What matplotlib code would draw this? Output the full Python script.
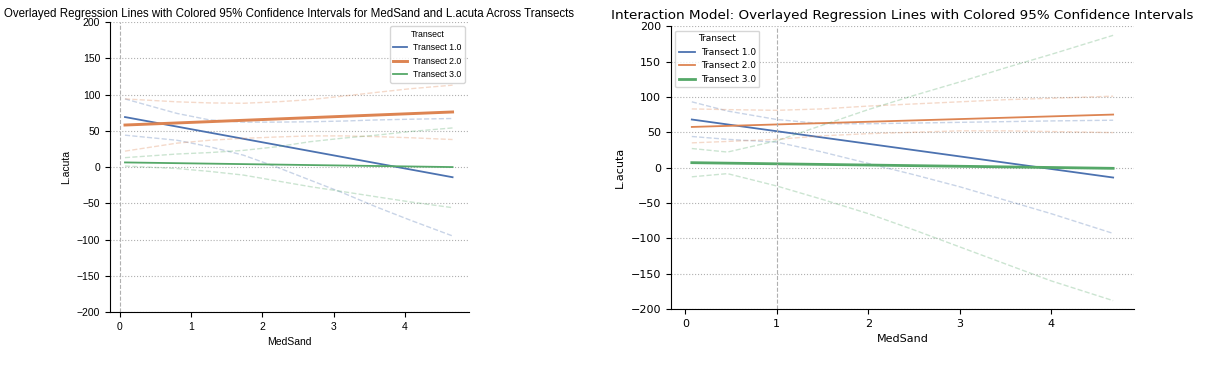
import matplotlib
matplotlib.use("Agg")
import matplotlib.pyplot as plt

# colours of the three transects
colors = ["#4c72b0", "#dd8452", "#55a868"]
labels = ["Transect 1.0", "Transect 2.0", "Transect 3.0"]

# --- left panel: separate fits ---
x_fit_l = [0.07, 4.67]
fit_l = [[69, -14], [58, 76], [6.4, 0]]
x_ci_l = [0.07, 0.8, 1.26, 1.73, 2.2, 2.67, 3.14, 3.6, 4.07, 4.67]
upper_l = [
    [94, 74, 65, 62, 62, 62.5, 63.5, 65, 66, 67],
    [94, 90, 88.5, 88, 90, 93, 98, 103, 108, 113],
    [13, 18, 20, 23, 28, 35, 40, 44, 49, 54],
]
lower_l = [
    [44, 37, 28, 16.5, 0, -18, -36, -55, -73, -95],
    [22, 33, 37, 39.6, 41.5, 43, 43, 42, 40.5, 38],
    [1.4, -2, -6, -11, -19, -27, -34, -41, -48, -56],
]

# --- right panel: interaction model ---
x_fit_r = [0.07, 4.68]
fit_r = [[68, -14], [57.5, 75], [7, -1]]
x_ci_r = [0.07, 0.46, 1.0, 1.5, 2.0, 2.5, 3.0, 3.5, 4.0, 4.68]
upper_r = [
    [93, 80, 68, 62, 62, 63, 64, 65, 66, 67],
    [83, 82, 81, 83, 87, 90, 93, 96, 98, 101],
    [27, 22, 38, 60, 82, 102, 121, 141, 160, 187],
]
lower_r = [
    [44, 40, 36, 22, 6, -10, -27, -46, -65, -93],
    [35, 37, 40, 45, 48, 50, 52, 52, 51, 49.5],
    [-13, -8.5, -26, -45, -65, -88, -112, -136, -160, -188],
]

# the left panel in the reference is squeezed, use a narrower font there
narrow = "Liberation Sans"

fig = plt.figure(figsize=(12.13, 3.68), dpi=100)
ax1 = fig.add_axes([0.0907, 0.152, 0.2959, 0.788])
ax2 = fig.add_axes([0.553, 0.160, 0.382, 0.769])


def draw(ax, x_fit, fits, x_ci, ups, lows, widths):
    for i in range(3):
        ax.plot(x_fit, fits[i], color=colors[i], lw=widths[i], label=labels[i])
        ax.plot(x_ci, ups[i], color=colors[i], lw=1, ls="--", alpha=0.3)
        ax.plot(x_ci, lows[i], color=colors[i], lw=1, ls="--", alpha=0.3)
    ax.set_ylim(-200, 200)
    ax.set_yticks(range(-200, 201, 50))
    ax.set_xticks(range(0, 5))
    ax.grid(axis="y", ls=":", color="#b0b0b0", lw=0.8)
    for s in ["top", "right"]:
        ax.spines[s].set_visible(False)


# left
draw(ax1, x_fit_l, fit_l, x_ci_l, upper_l, lower_l, [1.3, 2.1, 1.3])
ax1.set_xlim(-0.14, 4.9)
ax1.axvline(0, color="#b0b0b0", ls="--", lw=0.8)
ax1.set_title("Overlayed Regression Lines with Colored 95% Confidence Intervals for MedSand and L.acuta Across Transects",
              fontsize=8.3, pad=4, family=narrow)
ax1.set_xlabel("MedSand", fontsize=7.5, family=narrow)
ax1.set_ylabel("L.acuta", fontsize=7.5, family=narrow)
for t in ax1.get_xticklabels() + ax1.get_yticklabels():
    t.set_fontsize(7.5)
    t.set_family(narrow)
ax1.legend(title="Transect", loc="upper right", handlelength=1.6, handletextpad=0.6,
           prop=dict(size=6.3, family=narrow),
           title_fontproperties=dict(size=6.3, family=narrow))

# right
draw(ax2, x_fit_r, fit_r, x_ci_r, upper_r, lower_r, [1.3, 1.3, 2.0])
ax2.set_xlim(-0.16, 4.91)
ax2.axvline(1, color="#b0b0b0", ls="--", lw=0.8)
ax2.set_title("Interaction Model: Overlayed Regression Lines with Colored 95% Confidence Intervals",
              fontsize=9.7, pad=5)
ax2.set_xlabel("MedSand", fontsize=8)
ax2.set_ylabel("L.acuta", fontsize=8)
ax2.tick_params(labelsize=8)
ax2.legend(title="Transect", loc="upper left", fontsize=6.5, title_fontsize=6.5,
           handlelength=1.8, handletextpad=0.6)

fig.savefig("out.png", dpi=100)
